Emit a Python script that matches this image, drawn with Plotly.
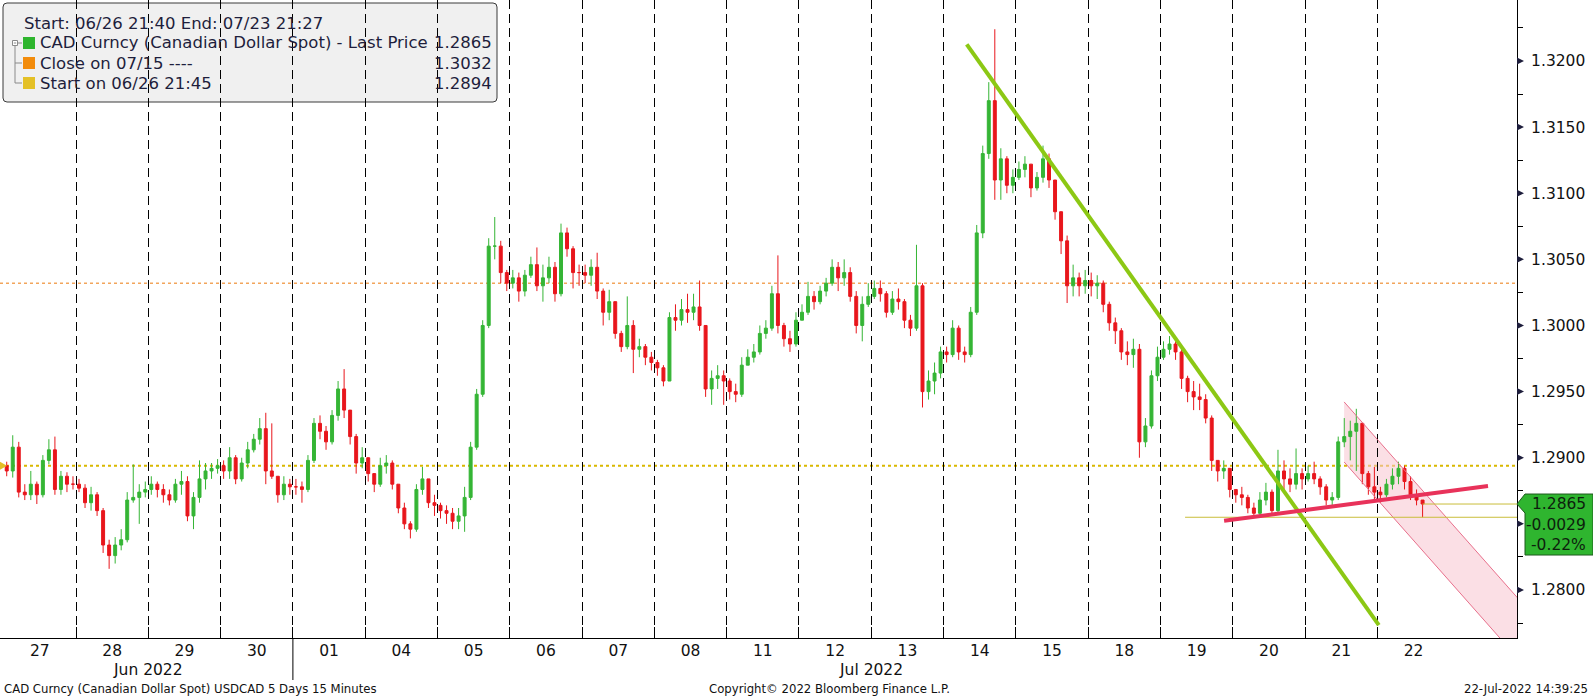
import plotly.graph_objects as go

# ---------------- data ----------------
day_labels = ["27", "28", "29", "30", "01", "04", "05", "06", "07", "08",
              "11", "12", "13", "14", "15", "18", "19", "20", "21", "22"]
month_labels = ["Jun 2022", "Jul 2022"]
month_centers = [2, 12]          # in trading-day units
month_break = 4                  # Jun -> Jul boundary

bars_per_day = [12] * 19 + [8]   # 2-hour bars

close_px = [
    1.2890, 1.2908, 1.2874, 1.2872, 1.2880, 1.2872, 1.2898, 1.2906, 1.2876, 1.2886, 1.2880, 1.2880,  # 27
    1.2877, 1.2866, 1.2872, 1.2860, 1.2834, 1.2826, 1.2834, 1.2838, 1.2868, 1.2870, 1.2874, 1.2876,  # 28
    1.2880, 1.2876, 1.2872, 1.2868, 1.2880, 1.2882, 1.2856, 1.2870, 1.2884, 1.2890, 1.2892, 1.2894,  # 29
    1.2890, 1.2900, 1.2884, 1.2896, 1.2906, 1.2914, 1.2922, 1.2890, 1.2886, 1.2872, 1.2880, 1.2878,  # 30
    1.2878, 1.2876, 1.2898, 1.2926, 1.2920, 1.2912, 1.2932, 1.2952, 1.2936, 1.2916, 1.2896, 1.2900,  # 01
    1.2888, 1.2880, 1.2894, 1.2896, 1.2880, 1.2862, 1.2850, 1.2846, 1.2876, 1.2884, 1.2866, 1.2864,  # 04
    1.2860, 1.2858, 1.2852, 1.2856, 1.2870, 1.2908, 1.2948, 1.3000, 1.3060, 1.3060, 1.3040, 1.3032,  # 05
    1.3036, 1.3026, 1.3038, 1.3046, 1.3030, 1.3036, 1.3044, 1.3024, 1.3070, 1.3058, 1.3040, 1.3040,  # 06
    1.3038, 1.3044, 1.3026, 1.3010, 1.3018, 1.2994, 1.2984, 1.3000, 1.2982, 1.2984, 1.2976, 1.2972,  # 07
    1.2968, 1.2958, 1.3006, 1.3004, 1.3012, 1.3010, 1.3014, 1.3000, 1.2952, 1.2960, 1.2962, 1.2958,  # 08
    1.2950, 1.2948, 1.2970, 1.2976, 1.2980, 1.2994, 1.2998, 1.3024, 1.3000, 1.2990, 1.2986, 1.3004,  # 11
    1.3010, 1.3022, 1.3018, 1.3026, 1.3032, 1.3044, 1.3036, 1.3040, 1.3022, 1.3000, 1.3016, 1.3022,  # 12
    1.3028, 1.3024, 1.3010, 1.3020, 1.3018, 1.3004, 1.2998, 1.3030, 1.2950, 1.2958, 1.2964, 1.2980,  # 13
    1.2978, 1.2998, 1.2980, 1.2978, 1.3010, 1.3070, 1.3130, 1.3170, 1.3110, 1.3126, 1.3106, 1.3112,  # 14
    1.3118, 1.3122, 1.3104, 1.3112, 1.3126, 1.3110, 1.3086, 1.3064, 1.3030, 1.3036, 1.3030, 1.3034,  # 15
    1.3030, 1.3032, 1.3016, 1.3002, 1.2996, 1.2980, 1.2978, 1.2982, 1.2912, 1.2924, 1.2962, 1.2976,  # 18
    1.2982, 1.2986, 1.2980, 1.2960, 1.2950, 1.2946, 1.2944, 1.2930, 1.2898, 1.2890, 1.2892, 1.2876,  # 19
    1.2872, 1.2870, 1.2862, 1.2858, 1.2868, 1.2874, 1.2860, 1.2890, 1.2884, 1.2880, 1.2888, 1.2884,  # 20
    1.2888, 1.2884, 1.2878, 1.2868, 1.2870, 1.2912, 1.2916, 1.2920, 1.2926, 1.2888, 1.2878, 1.2874,  # 21
    1.2872, 1.2880, 1.2886, 1.2892, 1.2882, 1.2872, 1.2868, 1.2865,                                  # 22
]
high_px = [
    1.2897, 1.2917, 1.2912, 1.2880, 1.2890, 1.2882, 1.2902, 1.2914, 1.2916, 1.2890, 1.2889, 1.2886,
    1.2884, 1.2880, 1.2878, 1.2874, 1.2862, 1.2838, 1.2840, 1.2846, 1.2874, 1.2895, 1.2880, 1.2882,
    1.2886, 1.2882, 1.2880, 1.2876, 1.2884, 1.2890, 1.2886, 1.2874, 1.2898, 1.2896, 1.2896, 1.2899,
    1.2898, 1.2908, 1.2902, 1.2900, 1.2912, 1.2918, 1.2930, 1.2934, 1.2926, 1.2886, 1.2886, 1.2884,
    1.2884, 1.2882, 1.2902, 1.2930, 1.2932, 1.2924, 1.2936, 1.2958, 1.2967, 1.2936, 1.2918, 1.2908,
    1.2894, 1.2886, 1.2900, 1.2902, 1.2898, 1.2880, 1.2866, 1.2852, 1.2880, 1.2893, 1.2884, 1.2872,
    1.2866, 1.2864, 1.2862, 1.2862, 1.2878, 1.2912, 1.2952, 1.3004, 1.3066, 1.3082, 1.3064, 1.3042,
    1.3042, 1.3040, 1.3042, 1.3052, 1.3059, 1.3046, 1.3052, 1.3048, 1.3077, 1.3074, 1.3060, 1.3046,
    1.3046, 1.3050, 1.3055, 1.3028, 1.3027, 1.3018, 1.2996, 1.3022, 1.3004, 1.2990, 1.2986, 1.2980,
    1.2974, 1.2970, 1.3010, 1.3016, 1.3020, 1.3024, 1.3024, 1.3034, 1.3000, 1.2966, 1.2970, 1.2966,
    1.2960, 1.2956, 1.2976, 1.2982, 1.2986, 1.3000, 1.3004, 1.3030, 1.3053, 1.3002, 1.2996, 1.3010,
    1.3016, 1.3033, 1.3026, 1.3030, 1.3036, 1.3050, 1.3048, 1.3050, 1.3044, 1.3026, 1.3022, 1.3032,
    1.3034, 1.3034, 1.3026, 1.3026, 1.3028, 1.3020, 1.3008, 1.3061, 1.3032, 1.2966, 1.2972, 1.2984,
    1.2984, 1.3004, 1.3000, 1.2984, 1.3014, 1.3076, 1.3136, 1.3184, 1.3224, 1.3134, 1.3128, 1.3118,
    1.3124, 1.3128, 1.3122, 1.3116, 1.3136, 1.3130, 1.3110, 1.3082, 1.3068, 1.3046, 1.3040, 1.3042,
    1.3040, 1.3038, 1.3034, 1.3018, 1.3006, 1.2998, 1.2988, 1.2990, 1.2986, 1.2930, 1.2966, 1.2984,
    1.2988, 1.2992, 1.2988, 1.2982, 1.2962, 1.2958, 1.2956, 1.2948, 1.2932, 1.2898, 1.2898, 1.2892,
    1.2876, 1.2878, 1.2872, 1.2866, 1.2874, 1.2881, 1.2876, 1.2906, 1.2898, 1.2892, 1.2907, 1.2892,
    1.2894, 1.2897, 1.2886, 1.2880, 1.2874, 1.2916, 1.2930, 1.2928, 1.2937, 1.2926, 1.2890, 1.2893,
    1.2878, 1.2884, 1.2892, 1.2897, 1.2894, 1.2886, 1.2876, 1.2868,
]
low_px = [
    1.2886, 1.2885, 1.2870, 1.2868, 1.2868, 1.2865, 1.2870, 1.2895, 1.2872, 1.2872, 1.2874, 1.2876,
    1.2874, 1.2862, 1.2860, 1.2856, 1.2828, 1.2816, 1.2820, 1.2830, 1.2836, 1.2866, 1.2850, 1.2870,
    1.2872, 1.2870, 1.2866, 1.2864, 1.2866, 1.2872, 1.2852, 1.2846, 1.2866, 1.2876, 1.2884, 1.2888,
    1.2884, 1.2884, 1.2880, 1.2882, 1.2892, 1.2904, 1.2910, 1.2880, 1.2884, 1.2866, 1.2868, 1.2872,
    1.2872, 1.2866, 1.2874, 1.2896, 1.2914, 1.2906, 1.2910, 1.2928, 1.2930, 1.2910, 1.2888, 1.2892,
    1.2882, 1.2874, 1.2878, 1.2888, 1.2876, 1.2858, 1.2846, 1.2839, 1.2844, 1.2872, 1.2862, 1.2856,
    1.2854, 1.2850, 1.2846, 1.2846, 1.2844, 1.2868, 1.2906, 1.2946, 1.2998, 1.3050, 1.3032, 1.3026,
    1.3028, 1.3018, 1.3022, 1.3036, 1.3026, 1.3018, 1.3032, 1.3018, 1.3022, 1.3052, 1.3028, 1.3030,
    1.3032, 1.3030, 1.3020, 1.3000, 1.3004, 1.2990, 1.2980, 1.2982, 1.2964, 1.2976, 1.2970, 1.2966,
    1.2962, 1.2954, 1.2958, 1.2996, 1.3000, 1.3002, 1.3004, 1.2996, 1.2946, 1.2940, 1.2952, 1.2940,
    1.2944, 1.2942, 1.2946, 1.2970, 1.2972, 1.2978, 1.2990, 1.2996, 1.2994, 1.2984, 1.2980, 1.2984,
    1.3004, 1.3008, 1.3012, 1.3016, 1.3022, 1.3030, 1.3026, 1.3030, 1.3018, 1.2994, 1.2988, 1.3014,
    1.3020, 1.3018, 1.3006, 1.3008, 1.3012, 1.2998, 1.2992, 1.2996, 1.2938, 1.2944, 1.2948, 1.2960,
    1.2972, 1.2976, 1.2974, 1.2972, 1.2976, 1.3008, 1.3066, 1.3126, 1.3095, 1.3095, 1.3100, 1.3100,
    1.3110, 1.3112, 1.3097, 1.3102, 1.3108, 1.3104, 1.3080, 1.3054, 1.3017, 1.3022, 1.3022, 1.3024,
    1.3022, 1.3020, 1.3010, 1.2996, 1.2986, 1.2974, 1.2970, 1.2968, 1.2900, 1.2908, 1.2922, 1.2958,
    1.2974, 1.2978, 1.2974, 1.2952, 1.2942, 1.2936, 1.2936, 1.2926, 1.2890, 1.2882, 1.2884, 1.2870,
    1.2866, 1.2864, 1.2858, 1.2855, 1.2856, 1.2864, 1.2856, 1.2858, 1.2876, 1.2874, 1.2876, 1.2876,
    1.2882, 1.2880, 1.2872, 1.2864, 1.2862, 1.2868, 1.2908, 1.2898, 1.2890, 1.2880, 1.2872, 1.2868,
    1.2866, 1.2870, 1.2876, 1.2880, 1.2876, 1.2868, 1.2864, 1.2855,
]

start_price = 1.2894      # Start on 06/26 21:45
close_0715 = 1.3032       # Close on 07/15
last_price = 1.2865       # Last Price
change_pct = "-0.22%"
support_level = 1.2855

# hand-drawn trend lines: (trading-day position, price)
green_trend_t = [13.32, 19.02]
green_trend_p = [1.32126, 1.27735]
red_trend_t = [16.88, 20.53]
red_trend_p = [1.28524, 1.28786]
channel_t = [18.54, 21.3]
channel_upper_p = [1.29422, 1.27717]
channel_lower_p = [1.28968, 1.27263]

# ---------------- geometry / style ----------------
W, H = 1593, 698
PW, PH = 1517, 638
X_RANGE = [-0.0512, 20.931]
Y_RANGE = [1.27637, 1.32461]
UNIT = (Y_RANGE[1] - Y_RANGE[0]) / PH      # price per pixel
FONT = "DejaVu Sans"
GREEN = "#35b535"
RED = "#e8161c"
NAVY = "#1e1e3c"


def fx(p):
    return p / PW


def fy(p):
    return 1 - p / PH


xs = []
for d, n in enumerate(bars_per_day):
    for k in range(n):
        xs.append(d + (k + 0.5) / 12)
opens = [start_price] + close_px[:-1]
change = last_price - start_price

fig = go.Figure()
fig.add_trace(go.Candlestick(
    x=xs, open=opens, high=high_px, low=low_px, close=close_px,
    increasing=dict(line=dict(color=GREEN, width=1), fillcolor=GREEN),
    decreasing=dict(line=dict(color=RED, width=1), fillcolor=RED),
    whiskerwidth=0, hoverinfo="skip", showlegend=False,
))

shapes = []
annotations = []

# legend box (rounded)
x0, x1, y0, y1, r = 3, 497, 3, 102, 4
pts = (f"M {fx(x0+r)},{fy(y0)} L {fx(x1-r)},{fy(y0)} Q {fx(x1)},{fy(y0)} {fx(x1)},{fy(y0+r)} "
       f"L {fx(x1)},{fy(y1-r)} Q {fx(x1)},{fy(y1)} {fx(x1-r)},{fy(y1)} "
       f"L {fx(x0+r)},{fy(y1)} Q {fx(x0)},{fy(y1)} {fx(x0)},{fy(y1-r)} "
       f"L {fx(x0)},{fy(y0+r)} Q {fx(x0)},{fy(y0)} {fx(x0+r)},{fy(y0)} Z")
shapes.append(dict(type="path", xref="paper", yref="paper", path=pts, layer="below",
                   fillcolor="#f0f0f0", line=dict(color="#3a3a3a", width=1)))

# pink channel
shapes.append(dict(type="path", xref="x", yref="y", layer="below",
                   path=(f"M {channel_t[0]},{channel_upper_p[0]} L {channel_t[1]},{channel_upper_p[1]} "
                         f"L {channel_t[1]},{channel_lower_p[1]} L {channel_t[0]},{channel_lower_p[0]} Z"),
                   fillcolor="rgba(247,196,208,0.55)", line=dict(width=0)))

# dotted reference levels
shapes.append(dict(type="line", xref="paper", yref="y", x0=0, x1=1, y0=close_0715, y1=close_0715,
                   layer="below", line=dict(color="#f2a55c", width=1.5, dash="dot")))
shapes.append(dict(type="line", xref="paper", yref="y", x0=0, x1=1, y0=start_price, y1=start_price,
                   layer="below", line=dict(color="#d9b800", width=2, dash="dot")))
# start marker at the left edge
shapes.append(dict(type="path", xref="paper", yref="y", layer="above",
                   path=(f"M {fx(0)},{start_price + 4 * UNIT} L {fx(7)},{start_price} "
                         f"L {fx(0)},{start_price - 4 * UNIT} Z"),
                   fillcolor="#e4c027", line=dict(width=0)))

# channel edges
for pp in (channel_upper_p, channel_lower_p):
    shapes.append(dict(type="line", xref="x", yref="y", x0=channel_t[0], x1=channel_t[1],
                       y0=pp[0], y1=pp[1], layer="above", line=dict(color="#e8708c", width=1)))

# thin olive lines (last price and support)
shapes.append(dict(type="line", xref="x", yref="y", x0=xs[-1], x1=X_RANGE[1], y0=last_price,
                   y1=last_price, layer="above", line=dict(color="#c9bd3a", width=1)))
shapes.append(dict(type="line", xref="x", yref="y", x0=16.34, x1=X_RANGE[1], y0=support_level,
                   y1=support_level, layer="above", line=dict(color="#c9bd3a", width=1)))

# trend lines
shapes.append(dict(type="line", xref="x", yref="y", x0=green_trend_t[0], x1=green_trend_t[1],
                   y0=green_trend_p[0], y1=green_trend_p[1], layer="above",
                   line=dict(color="#8cc814", width=4)))
shapes.append(dict(type="line", xref="x", yref="y", x0=red_trend_t[0], x1=red_trend_t[1],
                   y0=red_trend_p[0], y1=red_trend_p[1], layer="above",
                   line=dict(color="#e8325a", width=4)))

# month separator below the axis
shapes.append(dict(type="line", xref="x", yref="paper", x0=month_break, x1=month_break,
                   y0=0, y1=fy(680), layer="above", line=dict(color="black", width=1)))

# right-axis tick arrows
ytick_vals = [round(1.28 + 0.005 * i, 4) for i in range(9)]
ytick_text = ["" if abs(v - 1.285) < 1e-9 else f"{v:.4f}" for v in ytick_vals]  # hidden by price box
ytick_minor = [round(1.2775 + 0.005 * i, 4) for i in range(10)]
for v in ytick_vals:
    shapes.append(dict(type="path", xref="paper", yref="y", layer="above",
                       path=(f"M {fx(PW)},{v + 3.5 * UNIT} L {fx(PW + 7)},{v} "
                             f"L {fx(PW)},{v - 3.5 * UNIT} Z"),
                       fillcolor=NAVY, line=dict(width=0)))

# last price box
top = last_price + 10 * UNIT
notch = last_price - 9 * UNIT
bot = last_price - 51 * UNIT
shapes.append(dict(type="path", xref="paper", yref="y", layer="above",
                   path=(f"M {fx(PW + 8)},{top} L {fx(1593)},{top} L {fx(1593)},{bot} "
                         f"L {fx(PW + 8)},{bot} L {fx(PW + 8)},{notch} L {fx(PW)},{last_price} Z"),
                   fillcolor="#2fb52f", line=dict(color="#1e5a1e", width=1)))
for i, txt in enumerate([f"{last_price:.4f}", f"{change:.4f}", change_pct]):
    annotations.append(dict(xref="paper", yref="y", x=fx(1588), y=last_price - 20.5 * i * UNIT,
                            text=txt, showarrow=False, xanchor="right", yanchor="middle",
                            font=dict(family=FONT, size=15.5, color="#0d1f0d")))

# legend content
legend_rows = [
    ("CAD Curncy (Canadian Dollar Spot) - Last Price", f"{last_price:.4f}", "#2eb52e"),
    ("Close on 07/15 ----", f"{close_0715:.4f}", "#f28c0c"),
    ("Start on 06/26 21:45", f"{start_price:.4f}", "#e4c027"),
]
annotations.append(dict(xref="paper", yref="paper", x=fx(22), y=fy(23),
                        text="Start: 06/26 21:40 End: 07/23 21:27", showarrow=False,
                        xanchor="left", yanchor="middle",
                        font=dict(family=FONT, size=16.5, color=NAVY)))
for i, (lab, val, col) in enumerate(legend_rows):
    yc = 43 + 20 * i
    shapes.append(dict(type="rect", xref="paper", yref="paper", x0=fx(23), x1=fx(35),
                       y0=fy(yc - 6), y1=fy(yc + 6), fillcolor=col, line=dict(width=0),
                       layer="above"))
    annotations.append(dict(xref="paper", yref="paper", x=fx(38), y=fy(yc), text=lab,
                            showarrow=False, xanchor="left", yanchor="middle",
                            font=dict(family=FONT, size=16.5, color=NAVY)))
    annotations.append(dict(xref="paper", yref="paper", x=fx(494), y=fy(yc), text=val,
                            showarrow=False, xanchor="right", yanchor="middle",
                            font=dict(family=FONT, size=16.5, color=NAVY)))
# tree connector
tree = "#8a8a8a"
shapes.append(dict(type="rect", xref="paper", yref="paper", x0=fx(12.5), x1=fx(17.5),
                   y0=fy(40.5), y1=fy(45.5), fillcolor="white", line=dict(color=tree, width=1),
                   layer="above"))
shapes.append(dict(type="line", xref="paper", yref="paper", x0=fx(13.8), x1=fx(16.2),
                   y0=fy(43), y1=fy(43), line=dict(color=tree, width=1), layer="above"))
shapes.append(dict(type="line", xref="paper", yref="paper", x0=fx(17.5), x1=fx(22),
                   y0=fy(43), y1=fy(43), line=dict(color=tree, width=1), layer="above"))
shapes.append(dict(type="line", xref="paper", yref="paper", x0=fx(15), x1=fx(15),
                   y0=fy(45.5), y1=fy(83), line=dict(color=tree, width=1), layer="above"))
for yc in (63, 83):
    shapes.append(dict(type="line", xref="paper", yref="paper", x0=fx(15), x1=fx(22),
                       y0=fy(yc), y1=fy(yc), line=dict(color=tree, width=1), layer="above"))

# month labels
for lab, c in zip(month_labels, month_centers):
    annotations.append(dict(xref="x", yref="paper", x=c, y=fy(670), text=lab, showarrow=False,
                            xanchor="center", yanchor="middle",
                            font=dict(family=FONT, size=15.5, color="#111111")))

# footer
foot = dict(family=FONT, size=11.7, color="#111111")
annotations.append(dict(xref="paper", yref="paper", x=fx(2), y=fy(689), showarrow=False,
                        text="CAD Curncy (Canadian Dollar Spot) USDCAD 5 Days 15 Minutes",
                        xanchor="left", yanchor="middle", font=foot))
annotations.append(dict(xref="paper", yref="paper", x=fx(830), y=fy(689), showarrow=False,
                        text="Copyright\u00a9 2022 Bloomberg Finance L.P.",
                        xanchor="center", yanchor="middle", font=foot))
annotations.append(dict(xref="paper", yref="paper", x=fx(1590), y=fy(689), showarrow=False,
                        text="22-Jul-2022 14:39:25", xanchor="right", yanchor="middle", font=foot))

fig.update_layout(
    width=W, height=H,
    margin=dict(l=0, r=W - PW, t=0, b=H - PH, pad=0),
    paper_bgcolor="white", plot_bgcolor="white",
    showlegend=False, hovermode=False, boxgap=0.3,
    font=dict(family=FONT, color="#111111"),
    shapes=shapes, annotations=annotations,
    xaxis=dict(
        range=X_RANGE, showgrid=False, zeroline=False, showline=True, linecolor="black",
        linewidth=1, tickmode="array", tickvals=[d + 0.5 for d in range(len(day_labels))],
        ticktext=day_labels, ticks="", tickfont=dict(family=FONT, size=15.5, color="#111111"),
        ticklabelstandoff=-2,
        rangeslider=dict(visible=False), fixedrange=True,
        minor=dict(tickmode="array", tickvals=list(range(1, len(day_labels))), ticks="inside",
                   ticklen=11, tickcolor="black", tickwidth=1, showgrid=True,
                   gridcolor="black", gridwidth=1, griddash="9px,5px"),
    ),
    yaxis=dict(
        side="right", range=Y_RANGE, showgrid=False, zeroline=False, showline=True,
        linecolor="black", linewidth=1, tickmode="array", tickvals=ytick_vals,
        ticktext=ytick_text, ticks="outside", ticklen=10,
        tickcolor="rgba(0,0,0,0)", tickfont=dict(family=FONT, size=15.5, color="#111111"),
        fixedrange=True,
        minor=dict(tickmode="array", tickvals=ytick_minor, ticks="outside", ticklen=5,
                   tickcolor="black", tickwidth=1),
    ),
)

fig.write_html("out.html", config={"displayModeBar": False},
               post_script="document.body.style.margin='0';document.body.style.padding='0';"
                           "document.body.style.overflow='hidden';")
